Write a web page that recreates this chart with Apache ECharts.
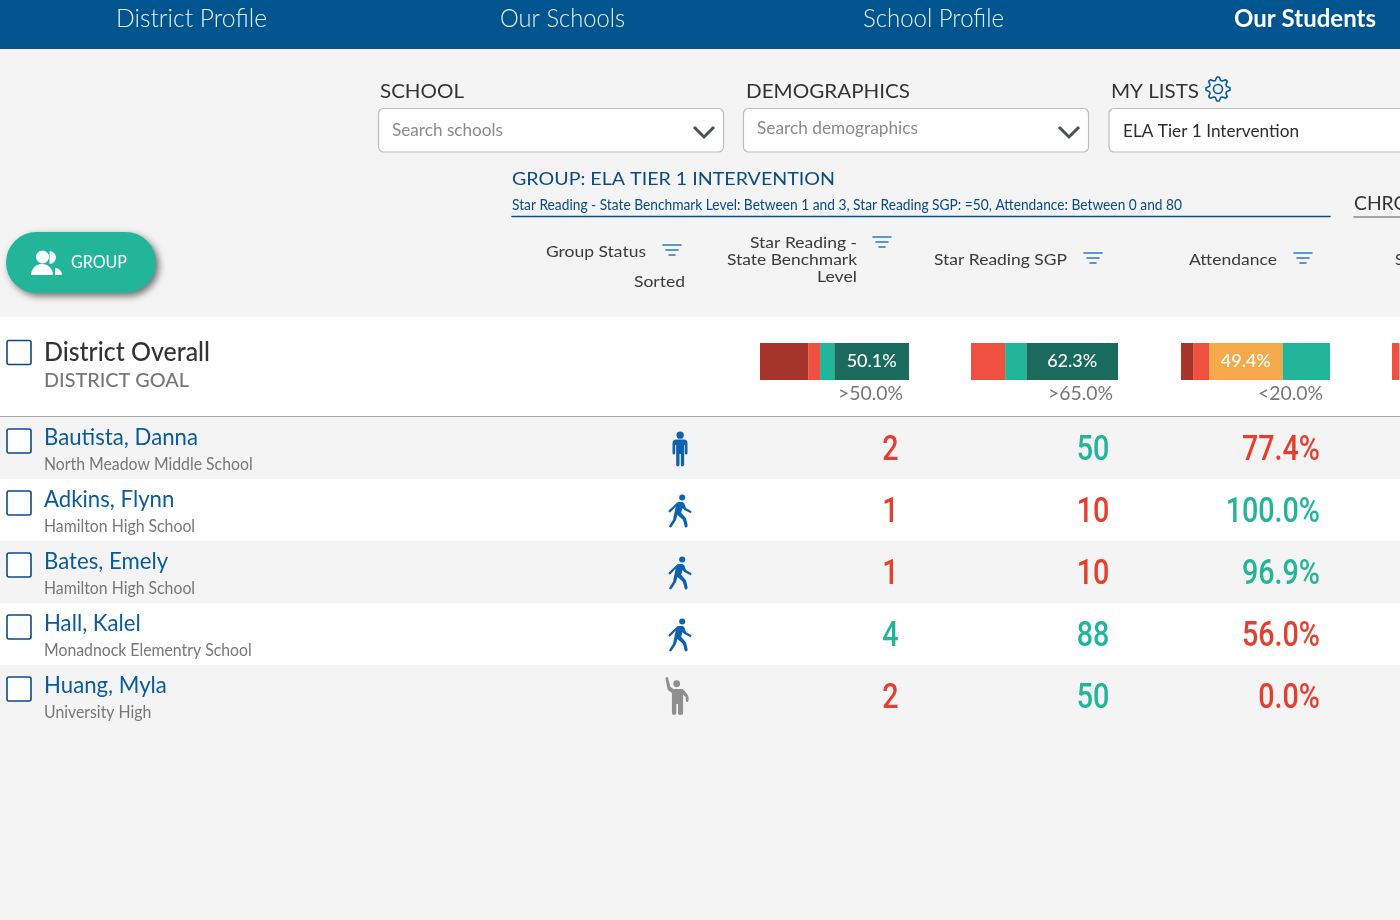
<!DOCTYPE html>
<html>
<head>
<meta charset="UTF-8">
<title>Our Students</title>
<script src="https://cdn.jsdelivr.net/npm/echarts@6/dist/echarts.min.js"></script>
<style>
  html, body { margin: 0; padding: 0; background: #f4f4f4; overflow: hidden; }
  #main { width: 1400px; height: 920px; }
</style>
</head>
<body>
<div id="main"></div>
<script type="text/javascript">

  // data
  var studentNames = ['Bautista, Danna', 'Adkins, Flynn', 'Bates, Emely', 'Hall, Kalel', 'Huang, Myla'];
  var studentSchools = ['North Meadow Middle School', 'Hamilton High School', 'Hamilton High School', 'Monadnock Elementry School', 'University High'];
  var studentStatus = ['standing', 'walking', 'walking', 'walking', 'waving'];
  var benchmarkLevels = [2, 1, 1, 4, 2];
  var sgpValues = [50, 10, 10, 88, 50];
  var attendanceValues = [77.4, 100.0, 96.9, 56.0, 0.0];

  var benchmarkShares = [32.3, 8.0, 9.6, 50.1];
  var benchmarkBands = ['darkred', 'red', 'teal', 'darkteal'];
  var sgpShares = [23.2, 14.5, 62.3];
  var sgpBands = ['red', 'teal', 'darkteal'];
  var attendanceShares = [8.1, 10.7, 49.4, 31.8];
  var attendanceBands = ['darkred', 'red', 'orange', 'teal'];
  var nextShares = [20];
  var nextBands = ['red'];

  var navItems = ['District Profile', 'Our Schools', 'School Profile', 'Our Students'];
  var benchmarkGoal = '>50.0%', sgpGoal = '>65.0%', attendanceGoal = '<20.0%';

  var colors = {
    darkred: '#a6352b', red: '#ef5040', orange: '#f4a94a', teal: '#22b59a', darkteal: '#1a6b5d',
    valueRed: '#e5402f', blue: '#0a5a9c', navy: '#0c4a86', nav: '#00558f', page: '#f4f4f4'
  };

  var iconPaths = {
    standing: 'path://M120 34a11 11 0 1 1 0 22a11 11 0 1 1 0-22ZM108 58L132 58Q142 58 142 70L142 98Q142 104 138 104Q134 104 134 98L134 75L132 75L132 134Q132 140 125 140Q122 140 122 134L122 102L118 102L118 134Q118 140 113 140Q108 140 108 134L108 75L105 75L105 98Q105 104 101 104Q97 104 97 98L97 70Q97 58 108 58Z',
    walking: 'path://M127 222a9 9 0 1 1 0 18a9 9 0 1 1 0-18ZM116 244L128 244Q132 245 134 250L138 262L153 271Q156 274 152 278L133 268L128 262L124 276L136 290Q138 292 139 296L143 314Q143 320 138 320Q135 320 134 316L129 297L113 283L109 297Q108 300 106 302L96 318Q92 322 89 318Q88 316 90 313L100 297L108 258L93 274Q89 277 87 273Q86 271 89 268L112 246Q114 244 116 244Z',
    waving: 'path://M110 781a10 10 0 1 1 0 20a10 10 0 1 1 0-20ZM79 772Q84 770 85 775L91 800L100 806L122 806Q128 806 132 810L142 822Q145 826 145 830L145 840Q145 844 141 844Q137 844 137 840L137 830L129 822L129 876Q129 882 122 882Q114 882 114 876L114 850L109 850L109 876Q109 882 102 882Q96 882 96 876L96 818L88 812Q84 810 83 806L77 777Q77 773 79 772Z'
  };

  var measure = document.createElement('canvas').getContext('2d');

  // text squeezed to the width it has in the picture
  function txt(str, x, y, size, color, opts) {
    opts = opts || {};
    var font = (opts.weight || 400) + ' ' + size + 'px Lato, sans-serif';
    measure.font = font;
    var sx = opts.w ? opts.w / measure.measureText(str).width : 1;
    return {
      type: 'text', x: x, y: y + 1, scaleX: sx, silent: true,
      style: { text: str, x: 0, y: 0, font: font, fill: color, align: opts.align || 'left', verticalAlign: 'middle' }
    };
  }

  function box(x, y, w, h, fill, r, stroke, lw) {
    return {
      type: 'rect', silent: true,
      shape: { x: x, y: y, width: w, height: h, r: r || 0 },
      style: { fill: fill, stroke: stroke || null, lineWidth: lw || 0 }
    };
  }

  function line(x1, y1, x2, y2, color, lw) {
    return {
      type: 'line', silent: true,
      shape: { x1: x1, y1: y1, x2: x2, y2: y2 },
      style: { stroke: color, lineWidth: lw, lineCap: 'round' }
    };
  }

  function chevron(x, y) {
    return {
      type: 'polyline', silent: true,
      shape: { points: [[x, y], [x + 10, y + 10], [x + 20, y]] },
      style: { stroke: '#4a5157', lineWidth: 3, fill: null }
    };
  }

  function filterIcon(x, y) {
    return [line(x, y, x + 18, y, '#2a7ab8', 1.6), line(x + 3, y + 5, x + 15, y + 5, '#2a7ab8', 1.6), line(x + 6, y + 10, x + 12, y + 10, '#2a7ab8', 1.6)];
  }

  function gearPoints(cx, cy) {
    var pts = [], teeth = 8;
    for (var i = 0; i < teeth * 4; i++) {
      var r = (i % 4 < 2) ? 12 : 9;
      var a = (i - 0.5) / (teeth * 4) * Math.PI * 2;
      pts.push([cx + r * Math.cos(a), cy + r * Math.sin(a)]);
    }
    return pts;
  }

  function wedge(cx, cy, r, from, to) {
    return {
      type: 'sector', silent: true,
      shape: { cx: cx, cy: cy, r: r, r0: 0, startAngle: from, endAngle: to, clockwise: true },
      style: { fill: '#fff' }
    };
  }

  var graphics = [
    box(0, 0, 1400, 49, colors.nav),
    txt(navItems[0], 116, 18, 25, '#e6eef5', { weight: 300, w: 151 }),
    txt(navItems[1], 500, 18, 25, '#e6eef5', { weight: 300, w: 125 }),
    txt(navItems[2], 863, 18, 25, '#e6eef5', { weight: 300, w: 141 }),
    txt(navItems[3], 1234, 18, 25, '#ffffff', { weight: 700, w: 142 }),

    txt('SCHOOL', 380, 91, 19, '#333', { w: 84 }),
    txt('DEMOGRAPHICS', 746, 91, 19, '#333', { w: 164 }),
    txt('MY LISTS', 1111, 91, 19, '#333', { w: 88 }),
    { type: 'polygon', silent: true, shape: { points: gearPoints(1218, 89) }, style: { fill: null, stroke: colors.blue, lineWidth: 1.6, lineJoin: 'round' } },
    { type: 'circle', silent: true, shape: { cx: 1218, cy: 89, r: 4.5 }, style: { fill: null, stroke: colors.blue, lineWidth: 1.6 } },

    box(378.5, 108.5, 345, 43.5, '#fff', 5, '#bdbdbd', 1.2),
    txt('Search schools', 392, 129, 18, '#8b8b8b', { w: 111 }),
    chevron(694, 127),
    box(743.5, 108.5, 345, 43.5, '#fff', 5, '#bdbdbd', 1.2),
    txt('Search demographics', 757, 127, 18, '#8b8b8b', { w: 161 }),
    chevron(1059, 127),
    box(1109, 108.5, 310, 43.5, '#fff', 5, '#bdbdbd', 1.2),
    txt('ELA Tier 1 Intervention', 1123, 130, 18, '#2c2c2c', { w: 176 }),

    txt('GROUP: ELA TIER 1 INTERVENTION', 512, 178, 18, colors.navy, { w: 323 }),
    txt('Star Reading - State Benchmark Level: Between 1 and 3, Star Reading SGP: =50, Attendance: Between 0 and 80', 512, 204, 15, colors.navy, { w: 670 }),
    line(512, 216.5, 1330, 216.5, colors.navy, 1.6),
    txt('CHRO', 1354, 203, 20, '#333', { w: 55 }),
    line(1354, 217, 1400, 217, '#8a8a8a', 1.6),

    txt('Group Status', 646, 251, 16, '#3a3a3a', { align: 'right', w: 100 }),
    txt('Sorted', 685, 281, 16, '#3a3a3a', { align: 'right', w: 51 }),
    txt('Star Reading -', 857, 242, 16, '#3a3a3a', { align: 'right', w: 107 }),
    txt('State Benchmark', 857, 259, 16, '#3a3a3a', { align: 'right', w: 130 }),
    txt('Level', 857, 276, 16, '#3a3a3a', { align: 'right', w: 40 }),
    txt('Star Reading SGP', 1067, 259, 16, '#3a3a3a', { align: 'right', w: 133 }),
    txt('Attendance', 1277, 259, 16, '#3a3a3a', { align: 'right', w: 88 }),
    txt('S', 1395, 259, 16, '#3a3a3a')
  ];
  graphics = graphics.concat(filterIcon(663, 245), filterIcon(873, 237), filterIcon(1084, 253), filterIcon(1294, 253));

  // group button
  graphics.push({
    type: 'rect', silent: true,
    shape: { x: 6, y: 232, width: 150, height: 61, r: 30.5 },
    style: { fill: colors.teal, shadowBlur: 7, shadowColor: 'rgba(0,0,0,0.55)', shadowOffsetX: 3, shadowOffsetY: 3 }
  });
  graphics.push({ type: 'circle', silent: true, shape: { cx: 42.5, cy: 257, r: 6.5 }, style: { fill: '#fff' } });
  graphics.push(wedge(42, 275, 11, Math.PI, Math.PI * 2));
  graphics.push(wedge(49.5, 257.5, 6.5, -Math.PI / 2, Math.PI / 2));
  graphics.push(wedge(55, 275, 7, -Math.PI / 2, 0));
  graphics.push(txt('GROUP', 71, 262, 17, '#fff', { w: 56 }));

  // district row
  graphics.push(box(0, 317, 1400, 99, '#fff'));
  graphics.push(line(0, 416.5, 1400, 416.5, '#a8a8a8', 1.2));
  graphics.push(box(7, 340.5, 24, 24, '#fff', 2, colors.navy, 1.6));
  graphics.push(txt('District Overall', 44, 351, 27, '#333', { w: 166, weight: 500 }));
  graphics.push(txt('DISTRICT GOAL', 44, 380, 19, '#777', { w: 145, weight: 500 }));
  graphics.push(txt(benchmarkGoal, 903, 393, 20, '#777', { align: 'right', w: 65 }));
  graphics.push(txt(sgpGoal, 1113, 393, 20, '#777', { align: 'right', w: 65 }));
  graphics.push(txt(attendanceGoal, 1323, 393, 20, '#777', { align: 'right', w: 65 }));

  // white stripes behind every second student
  graphics.push(box(0, 479, 1400, 62, '#fff'));
  graphics.push(box(0, 603, 1400, 62, '#fff'));

  var grids = [], xAxes = [], yAxes = [], series = [];

  function hiddenAxes(xMax, cats) {
    xAxes.push({ type: 'value', gridIndex: grids.length - 1, min: 0, max: xMax, show: false });
    yAxes.push({ type: 'category', gridIndex: grids.length - 1, data: cats, inverse: true, show: false });
  }

  // one stacked bar per column of the district row
  function addStack(left, width, shares, bands, labelIndex) {
    grids.push({ left: left, top: 343, width: width, height: 37 });
    hiddenAxes(100, ['District Overall']);
    var g = grids.length - 1;
    shares.forEach(function (v, i) {
      series.push({
        type: 'bar', xAxisIndex: g, yAxisIndex: g, stack: 'g' + g, barWidth: '100%',
        itemStyle: { color: colors[bands[i]] },
        label: {
          show: i === labelIndex, position: 'inside', color: '#fff',
          fontFamily: 'Lato', fontSize: 18, fontWeight: 500,
          formatter: function (p) { return p.value.toFixed(1) + '%'; }
        },
        data: [v]
      });
    });
  }
  addStack(760, 149, benchmarkShares, benchmarkBands, 3);
  addStack(971, 147, sgpShares, sgpBands, 2);
  addStack(1181, 149, attendanceShares, attendanceBands, 2);
  addStack(1392, 149, nextShares, nextBands, -1);

  // student rows: x is plain page pixels, y is the student category
  grids.push({ left: 0, top: 417, width: 1400, height: 310 });
  hiddenAxes(1400, studentNames);
  var rowGrid = grids.length - 1;

  function rowPoints(x) {
    return studentNames.map(function (n) { return [x, n]; });
  }

  // custom series so the column text can be narrowed like the condensed face in the picture
  function textColumn(x, values, dy, align, font, squeeze, colorOf, format) {
    series.push({
      type: 'custom', xAxisIndex: rowGrid, yAxisIndex: rowGrid, silent: true, clip: false,
      encode: { x: 0, y: 1 },
      data: rowPoints(x),
      renderItem: function (params, api) {
        var p = api.coord([api.value(0), api.value(1)]);
        var v = values[params.dataIndex];
        return {
          type: 'text', x: p[0], y: p[1] + dy, scaleX: squeeze,
          style: { text: String(format ? format(v) : v), x: 0, y: 0, font: font, fill: colorOf(v), align: align, verticalAlign: 'middle' }
        };
      }
    });
  }

  var numberFont = '500 35px Roboto, sans-serif';
  function tone(limit) { return function (v) { return v >= limit ? colors.teal : colors.valueRed; }; }

  textColumn(44, studentNames, -11, 'left', '400 24px Lato, sans-serif', 0.925, function () { return colors.blue; });
  textColumn(44, studentSchools, 17, 'left', '400 17px Lato, sans-serif', 0.93, function () { return '#777'; });
  textColumn(890.5, benchmarkLevels, 3, 'center', numberFont, 0.82, tone(3));
  textColumn(1093, sgpValues, 3, 'center', numberFont, 0.82, tone(50));
  textColumn(1320, attendanceValues, 3, 'right', numberFont, 0.82, tone(90), function (v) { return v.toFixed(1) + '%'; });

  // checkboxes
  series.push({
    type: 'custom', xAxisIndex: rowGrid, yAxisIndex: rowGrid, silent: true, clip: false,
    encode: { x: 0, y: 1 },
    data: rowPoints(19),
    renderItem: function (params, api) {
      var p = api.coord([api.value(0), api.value(1)]);
      return {
        type: 'rect',
        shape: { x: p[0] - 12, y: p[1] - 19, width: 24, height: 24, r: 2 },
        style: { fill: '#fff', stroke: colors.navy, lineWidth: 1.6 }
      };
    }
  });

  // status figures
  series.push({
    type: 'scatter', xAxisIndex: rowGrid, yAxisIndex: rowGrid, silent: true,
    data: studentStatus.map(function (s, i) {
      var wave = s === 'waving';
      return {
        value: [680, studentNames[i]],
        symbol: iconPaths[s],
        symbolSize: s === 'standing' ? [15, 35] : (wave ? [23, 38] : [23, 33]),
        symbolOffset: wave ? [-3, 0] : [0, 1],
        itemStyle: { color: wave ? '#8f8f8f' : '#0f62ab', opacity: 1 }
      };
    })
  });

  var myChart = echarts.init(document.getElementById('main'));
  myChart.setOption({
    animation: false,
    backgroundColor: colors.page,
    tooltip: { show: false },
    grid: grids,
    xAxis: xAxes,
    yAxis: yAxes,
    graphic: { elements: graphics },
    series: series
  });

</script>
</body>
</html>
